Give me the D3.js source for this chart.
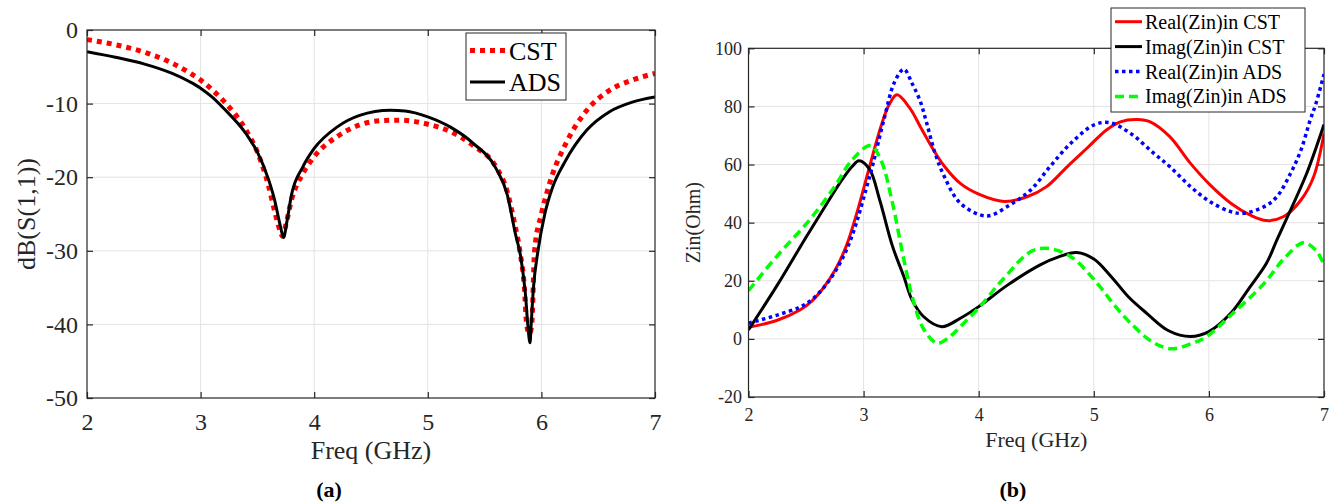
<!DOCTYPE html>
<html>
<head>
<meta charset="utf-8">
<script src="https://cdn.jsdelivr.net/npm/d3@7/dist/d3.min.js"></script>
<style>
body { margin: 0; background: #fff; }
</style>
</head>
<body>
<div id="chart"></div>
<script>
// ---- panel (a): S11 in dB ----
const freqTicksA = [2, 3, 4, 5, 6, 7];
const dbTicks = [0, -10, -20, -30, -40, -50];

const cstFreq = [2, 2.25, 2.5, 2.75, 2.9, 3, 3.1, 3.2, 3.4, 3.5, 3.6, 3.65, 3.7, 3.72, 3.75, 3.8, 3.9, 4, 4.2, 4.4, 4.6, 4.75, 5, 5.2, 5.4, 5.6, 5.7, 5.76, 5.81, 5.85, 5.87, 5.895, 5.915, 5.94, 6, 6.05, 6.1, 6.2, 6.4, 6.6, 6.8, 7];
const cstDb = [-1.3, -2.0, -3.0, -4.5, -5.8, -6.8, -8.1, -9.6, -13.6, -16.6, -21.3, -24.5, -27.3, -28, -26.5, -23.1, -19.5, -17.2, -14.5, -12.9, -12.3, -12.25, -12.8, -13.8, -15.7, -18.6, -22, -26, -30, -35, -40, -41.3, -40, -30, -25, -22, -19.5, -15.9, -10.9, -8.2, -6.8, -5.9];

const adsFreq = [2, 2.25, 2.5, 2.75, 2.9, 3, 3.1, 3.2, 3.4, 3.5, 3.6, 3.65, 3.7, 3.73, 3.76, 3.8, 3.9, 4, 4.2, 4.4, 4.67, 4.8, 5, 5.2, 5.4, 5.6, 5.7, 5.77, 5.82, 5.86, 5.88, 5.9, 5.91, 5.93, 5.97, 6.03, 6.1, 6.2, 6.4, 6.6, 6.8, 7];
const adsDb = [-2.95, -3.7, -4.6, -5.9, -7.0, -7.9, -9.1, -10.6, -14.1, -16.6, -20.4, -23, -26.5, -28.2, -26, -22.4, -18.6, -16.1, -13.2, -11.6, -10.9, -11, -11.8, -13.2, -15.4, -18.8, -22.4, -27.6, -31, -36, -40, -42.5, -40, -35, -30, -25, -21.3, -18.1, -13.6, -11.1, -9.8, -9.1];

// ---- panel (b): input impedance ----
const freqTicksB = [2, 3, 4, 5, 6, 7];
const zinTicks = [-20, 0, 20, 40, 60, 80, 100];

const realCstFreq = [2, 2.25, 2.45, 2.55, 2.65, 2.75, 2.85, 2.95, 3.05, 3.15, 3.22, 3.29, 3.4, 3.5, 3.6, 3.7, 3.84, 4.0, 4.22, 4.42, 4.59, 4.77, 4.94, 5.11, 5.23, 5.38, 5.49, 5.66, 5.84, 6.01, 6.19, 6.36, 6.5, 6.65, 6.8, 6.91, 7];
const realCst = [4.0, 6.4, 10, 13, 17.5, 23.5, 32, 44.5, 59, 73, 80.5, 84, 79.5, 72.5, 65.5, 59.5, 53.5, 49.8, 47.3, 48.9, 52.4, 59.3, 65.6, 71.9, 74.7, 75.5, 74.7, 69.6, 60.4, 53, 46.7, 42.6, 40.7, 42.1, 47.8, 55.8, 70.7];

const imagCstFreq = [2, 2.25, 2.5, 2.68, 2.8, 2.9, 2.96, 3.05, 3.14, 3.25, 3.35, 3.42, 3.52, 3.68, 3.84, 4, 4.25, 4.53, 4.7, 4.85, 5.0, 5.15, 5.3, 5.46, 5.65, 5.84, 6, 6.19, 6.35, 6.5, 6.59, 6.71, 6.85, 7];
const imagCst = [3.1, 18.5, 35, 46.5, 54, 59.3, 61.3, 58.5, 47.8, 32, 21.4, 13.5, 7.7, 4.2, 7.1, 11.1, 18.5, 25.4, 28.3, 29.7, 27.5, 21.5, 14.5, 8.8, 2.8, 0.8, 2.5, 8.8, 17.5, 26, 34, 44.4, 57, 73.8];

const realAdsFreq = [2, 2.25, 2.45, 2.55, 2.65, 2.75, 2.85, 2.93, 3.0, 3.08, 3.18, 3.27, 3.35, 3.42, 3.49, 3.55, 3.62, 3.7, 3.84, 4.07, 4.27, 4.45, 4.62, 4.8, 5.0, 5.14, 5.32, 5.52, 5.66, 5.84, 6.01, 6.19, 6.3, 6.48, 6.59, 6.71, 6.8, 6.88, 6.93, 7];
const realAds = [5.4, 8.2, 11, 13.5, 17.5, 23, 30.5, 39, 48.5, 60, 76, 88.5, 92.8, 88, 82, 74, 64, 56, 46.7, 42.3, 46.1, 51.2, 59.3, 67.3, 73.6, 74.4, 70.7, 63.9, 59.3, 52.4, 47.2, 43.8, 43.2, 45.5, 48.9, 57, 65, 75.3, 81, 91.1];

const imagAdsFreq = [2, 2.25, 2.53, 2.75, 2.9, 3.06, 3.15, 3.245, 3.35, 3.43, 3.52, 3.64, 3.75, 3.84, 4.01, 4.2, 4.45, 4.59, 4.8, 5.03, 5.18, 5.32, 5.5, 5.67, 5.85, 5.98, 6.2, 6.48, 6.65, 6.82, 6.93, 7];
const imagAds = [16.6, 28.6, 40.9, 52.5, 61.6, 66.5, 61.6, 47.8, 27.2, 13.4, 3.5, -1.5, 0.8, 4.2, 11.1, 20, 30, 31.2, 28.3, 19.1, 11.5, 5.4, -0.8, -3.4, -1.6, 0.8, 8.5, 19.1, 27.5, 33.1, 30.5, 25.4];

const FONT = "'Liberation Serif', 'DejaVu Serif', serif";

const svg = d3.select("#chart").append("svg")
  .attr("width", 1336)
  .attr("height", 502)
  .attr("font-family", FONT);

function zip(xs, ys) { return xs.map(function(x, i) { return [x, ys[i]]; }); }

function drawPanel(p) {
  const x = d3.scaleLinear().domain([2, 7]).range([p.left, p.right]);
  const y = d3.scaleLinear().domain(p.yDomain).range([p.bottom, p.top]);
  const w = p.right - p.left, h = p.bottom - p.top;
  const g = svg.append("g");

  // grid
  g.append("g").selectAll("line").data(p.xTicks.slice(1, -1)).enter().append("line")
    .attr("x1", d => x(d)).attr("x2", d => x(d)).attr("y1", p.top).attr("y2", p.bottom)
    .attr("stroke", "#e3e3e3").attr("stroke-width", 1);
  g.append("g").selectAll("line").data(p.yTicks.slice(1, -1)).enter().append("line")
    .attr("y1", d => y(d)).attr("y2", d => y(d)).attr("x1", p.left).attr("x2", p.right)
    .attr("stroke", "#e3e3e3").attr("stroke-width", 1);

  // curves
  const clipId = "clip" + p.name;
  svg.append("clipPath").attr("id", clipId).append("rect")
    .attr("x", p.left).attr("y", p.top).attr("width", w).attr("height", h);
  const line = d3.line().x(d => x(d[0])).y(d => y(d[1])).curve(p.curve);
  p.series.forEach(function(s) {
    g.append("path").datum(zip(s.x, s.y))
      .attr("clip-path", "url(#" + clipId + ")")
      .attr("d", line)
      .attr("fill", "none")
      .attr("stroke", s.color)
      .attr("stroke-width", s.width)
      .attr("stroke-dasharray", s.dash || null)
      .attr("stroke-linejoin", "round");
  });

  // inward ticks on all four sides
  const tk = 6;
  g.append("g").attr("transform", "translate(0," + p.bottom + ")")
    .call(d3.axisBottom(x).tickValues(p.xTicks).tickSize(-tk).tickFormat("").tickSizeOuter(0));
  g.append("g").attr("transform", "translate(0," + p.top + ")")
    .call(d3.axisTop(x).tickValues(p.xTicks).tickSize(-tk).tickFormat("").tickSizeOuter(0));
  g.append("g").attr("transform", "translate(" + p.left + ",0)")
    .call(d3.axisLeft(y).tickValues(p.yTicks).tickSize(-tk).tickFormat("").tickSizeOuter(0));
  g.append("g").attr("transform", "translate(" + p.right + ",0)")
    .call(d3.axisRight(y).tickValues(p.yTicks).tickSize(-tk).tickFormat("").tickSizeOuter(0));
  g.selectAll(".domain").remove();
  g.selectAll(".tick line").attr("stroke", "#262626").attr("stroke-width", 1.2);
  g.append("rect").attr("x", p.left).attr("y", p.top).attr("width", w).attr("height", h)
    .attr("fill", "none").attr("stroke", "#262626").attr("stroke-width", 1.2);

  // tick labels
  const xl = g.append("g").attr("transform", "translate(0," + p.bottom + ")")
    .call(d3.axisBottom(x).tickValues(p.xTicks).tickSize(0).tickPadding(p.xPad).tickFormat(d3.format("d")));
  const yl = g.append("g").attr("transform", "translate(" + p.left + ",0)")
    .call(d3.axisLeft(y).tickValues(p.yTicks).tickSize(0).tickPadding(p.yPad).tickFormat(d => String(d)));
  xl.select(".domain").remove();
  yl.select(".domain").remove();
  [xl, yl].forEach(function(a) {
    a.attr("font-family", FONT).attr("font-size", p.tickFont);
    a.selectAll("text").attr("fill", "#262626");
  });

  // axis titles
  g.append("text").attr("x", (p.left + p.right) / 2).attr("y", p.xTitleY)
    .attr("text-anchor", "middle").attr("font-size", p.titleFont).attr("fill", "#262626").text("Freq (GHz)");
  g.append("text").attr("transform", "translate(" + p.yTitleX + "," + (p.top + p.bottom) / 2 + ") rotate(-90)")
    .attr("text-anchor", "middle").attr("font-size", p.yTitleFont).attr("fill", "#262626").text(p.yTitle);

  // panel label
  g.append("text").attr("x", p.labelX).attr("y", 497).attr("text-anchor", "middle")
    .attr("font-size", 22).attr("font-weight", "bold").attr("fill", "#000").text(p.label);

  // legend
  const L = p.legend;
  g.append("rect").attr("x", L.x).attr("y", L.y).attr("width", L.w).attr("height", L.h)
    .attr("fill", "#fff").attr("stroke", "#262626").attr("stroke-width", 1);
  p.series.forEach(function(s, i) {
    const cy = L.y + L.first + i * L.step;
    g.append("line").attr("x1", L.x + L.s0).attr("x2", L.x + L.s1).attr("y1", cy).attr("y2", cy)
      .attr("stroke", s.color).attr("stroke-width", s.width).attr("stroke-dasharray", s.dash || null);
    g.append("text").attr("x", L.x + L.tx).attr("y", cy).attr("dy", "0.35em")
      .attr("font-size", L.font).attr("fill", "#000").text(s.name);
  });
}

drawPanel({
  name: "a", left: 87, right: 655, top: 30, bottom: 398,
  yDomain: [-50, 0], xTicks: freqTicksA, yTicks: dbTicks,
  curve: d3.curveMonotoneX,
  tickFont: 24, xPad: 15, yPad: 9,
  titleFont: 26, xTitleY: 459, yTitle: "dB(S(1,1))", yTitleX: 35, yTitleFont: 26,
  label: "(a)", labelX: 329,
  series: [
    {name: "CST", x: cstFreq, y: cstDb, color: "#ff0000", width: 5, dash: "5,5"},
    {name: "ADS", x: adsFreq, y: adsDb, color: "#000000", width: 3}
  ],
  legend: {x: 466, y: 33, w: 100, h: 67, first: 17.5, step: 31.5, s0: 4, s1: 39, tx: 43, font: 26}
});

drawPanel({
  name: "b", left: 748.5, right: 1324, top: 48.3, bottom: 397,
  yDomain: [-20, 100], xTicks: freqTicksB, yTicks: zinTicks,
  curve: d3.curveCatmullRom.alpha(0.5),
  tickFont: 18, xPad: 11, yPad: 6.5,
  titleFont: 22, xTitleY: 447, yTitle: "Zin(Ohm)", yTitleX: 700, yTitleFont: 20,
  label: "(b)", labelX: 1013,
  series: [
    {name: "Real(Zin)in CST", x: realCstFreq, y: realCst, color: "#ff0000", width: 3},
    {name: "Imag(Zin)in CST", x: imagCstFreq, y: imagCst, color: "#000000", width: 3},
    {name: "Real(Zin)in ADS", x: realAdsFreq, y: realAds, color: "#0000ff", width: 3.5, dash: "3.5,3.5"},
    {name: "Imag(Zin)in ADS", x: imagAdsFreq, y: imagAds, color: "#00ff00", width: 3.5, dash: "9,5"}
  ],
  legend: {x: 1111, y: 8, w: 194, h: 104, first: 13.7, step: 24.9, s0: 4, s1: 31, tx: 34, font: 20}
});
</script>
</body>
</html>
